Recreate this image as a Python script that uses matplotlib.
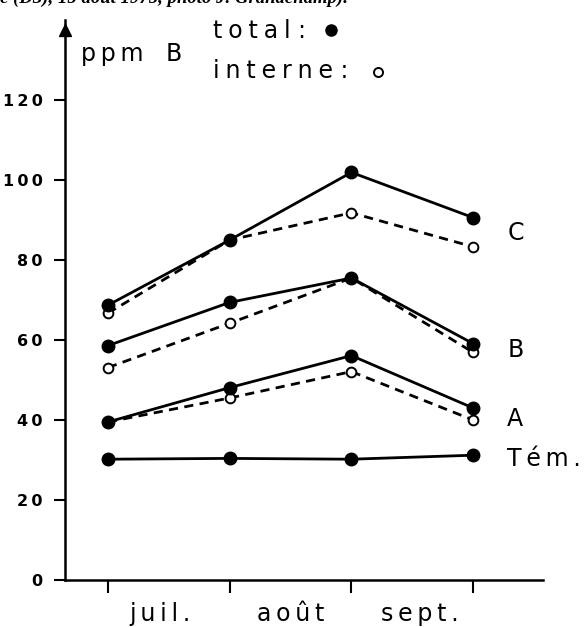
import matplotlib
matplotlib.use("Agg")
import matplotlib.pyplot as plt

# months (intervals) and sample dates
months = ["juil.", "août", "sept."]
x_pts = [0, 1, 2, 3]

# ppm B, total (filled) and interne (open)
c_total = [68.7, 85.0, 101.9, 90.6]
c_interne = [66.7, 85.0, 91.8, 83.3]
b_total = [58.6, 69.4, 75.5, 59.1]
b_interne = [53.1, 64.2, 75.5, 56.9]
a_total = [39.5, 48.1, 56.1, 43.0]
a_interne = [39.5, 45.5, 52.1, 40.0]
tem_total = [30.2, 30.4, 30.2, 31.2]

series_names = ["C", "B", "A", "Tém."]
label_y = [86.8, 57.4, 40.3, 30.2]
yticks = [0, 20, 40, 60, 80, 100, 120]

THIN = "\u2009"
QUARTER = "\u2005"


def spaced(s, sp):
    # crude letter spacing, the scan uses wide tracking
    return sp.join(list(s))


W, H = 586, 627
fig = plt.figure(figsize=(W / 100, H / 100), dpi=100)
# axes box in pixels: x 65..543, y 20..580
ax = fig.add_axes([65 / W, (H - 580) / H, (543 - 65) / W, (580 - 20) / H])

ax.set_xlim(-0.353, 3.574)
ax.set_ylim(0, 140)

lw = 2.0
for tot, inn in [(c_total, c_interne), (b_total, b_interne), (a_total, a_interne)]:
    ax.plot(x_pts, inn, color="black", lw=lw, ls=(0, (3.3, 2.3)),
            marker="o", ms=7, mfc="white", mec="black", mew=1.4, zorder=3)
    ax.plot(x_pts, tot, color="black", lw=lw, marker="o", ms=9,
            mfc="black", mec="black", zorder=4)
ax.plot(x_pts, tem_total, color="black", lw=lw, marker="o", ms=9,
        mfc="black", mec="black", zorder=4)

for name, yv in zip(series_names, label_y):
    ax.text(3.28, yv, spaced(name, THIN), fontsize=17, va="center", ha="left")

# axes styling
for s in ["top", "right"]:
    ax.spines[s].set_visible(False)
ax.spines["left"].set_linewidth(1.8)
ax.spines["bottom"].set_linewidth(1.8)

ax.set_yticks(yticks)
ax.set_yticklabels([spaced(str(v), THIN) for v in yticks],
                   fontsize=11.5, fontweight="bold")
ax.tick_params(axis="y", length=8, width=1.5, pad=8)

ax.set_xticks(x_pts)
ax.set_xticklabels([])
ax.tick_params(axis="x", which="major", length=9, width=1.5, direction="out")
ax.set_xticks([0.43, 1.50, 2.56], minor=True)
ax.set_xticklabels([spaced(m, THIN) for m in months], minor=True,
                   fontsize=17)
ax.tick_params(axis="x", which="minor", length=0, pad=16)

# arrow head on top of the y axis
ax.plot([-0.353], [137.5], marker="^", ms=8, color="black",
        clip_on=False, zorder=5)

# axis unit and legend texts
fig.text(81 / W, 1 - 61 / H, spaced("ppm", THIN) + "   B", fontsize=17,
         va="baseline", ha="left")
fig.text(213 / W, 1 - 38 / H, spaced("total", QUARTER) + " :",
         fontsize=17, va="baseline", ha="left")
fig.text(213 / W, 1 - 78 / H, spaced("interne", QUARTER) + " :",
         fontsize=17, va="baseline", ha="left")
fig.lines.append(plt.Line2D([331 / W], [1 - 30 / H], marker="o", ms=8,
                            mfc="black", mec="black", transform=fig.transFigure))
fig.lines.append(plt.Line2D([378 / W], [1 - 72 / H], marker="o", ms=6.5,
                            mfc="white", mec="black", mew=1.4,
                            transform=fig.transFigure))

# cut caption line at the very top of the scan
fig.text(0.0, 1 - 3 / H, "e (D3), 15 août 1975, photo J. Grandchamp).",
         fontsize=13.5, family="Liberation Serif", style="italic",
         fontweight="bold", va="baseline", ha="left")

fig.savefig("out.png", dpi=100)
